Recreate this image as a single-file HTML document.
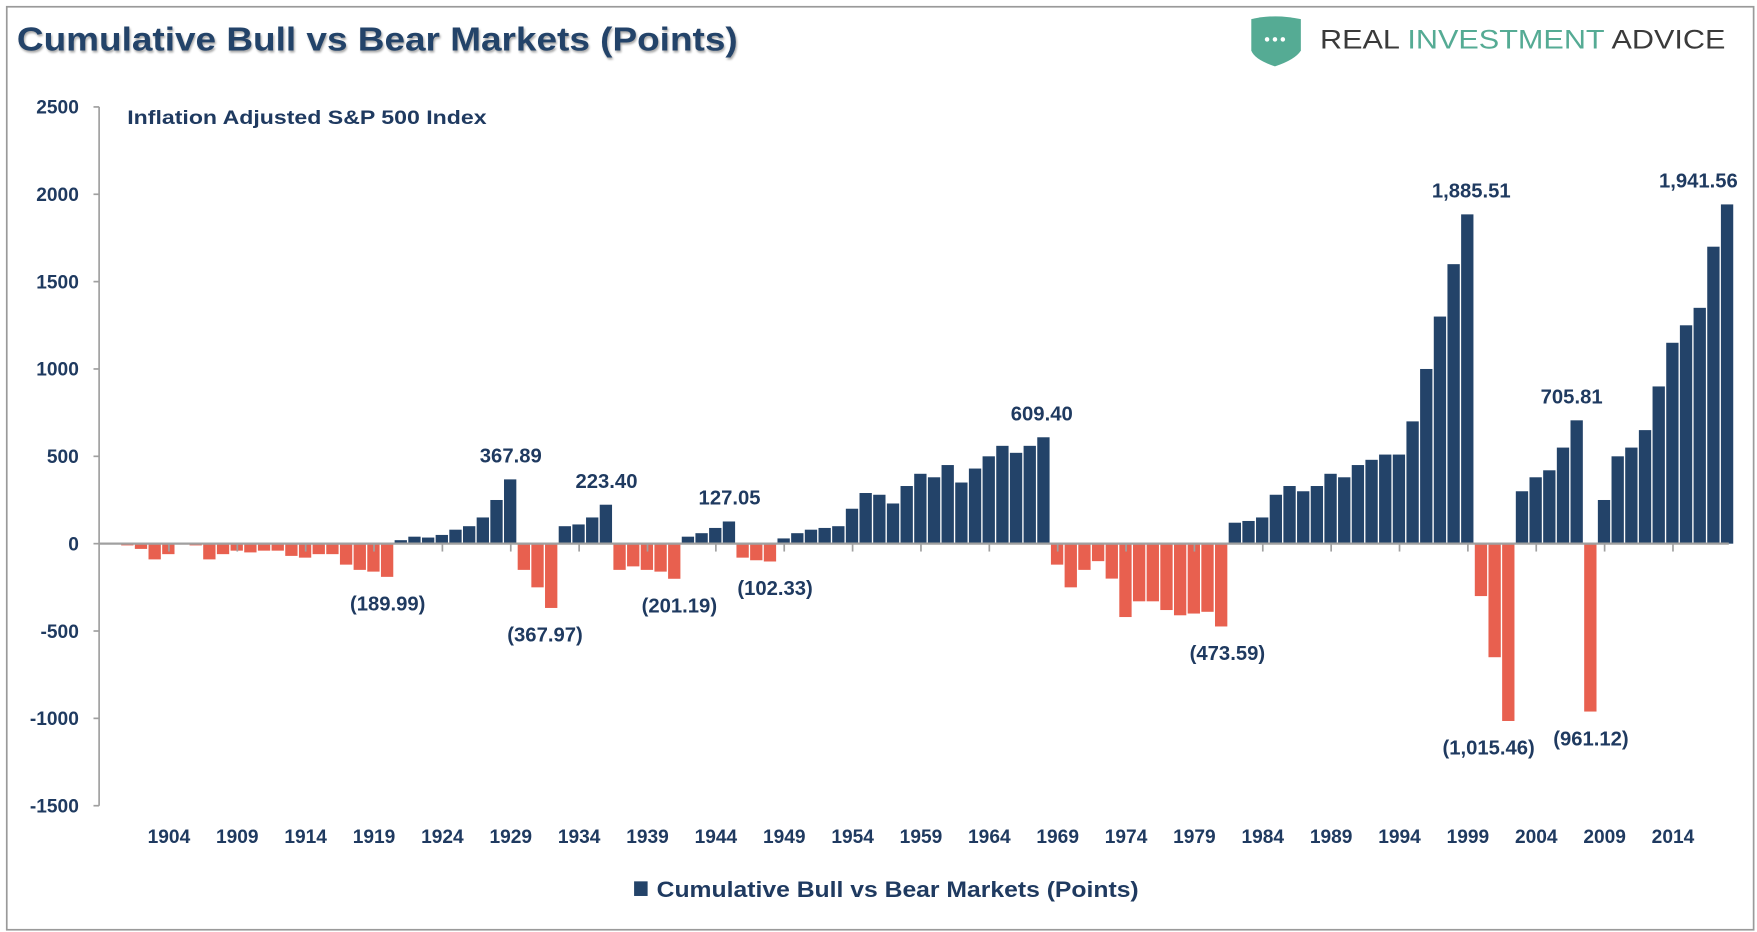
<!DOCTYPE html>
<html><head><meta charset="utf-8"><style>
html,body{margin:0;padding:0;background:#fff;}
svg{display:block;font-family:"Liberation Sans",sans-serif;}
</style></head><body>
<svg id="chart" width="1757" height="932" viewBox="0 0 1560 828" preserveAspectRatio="none" xmlns="http://www.w3.org/2000/svg">
<rect x="6" y="6" width="1551" height="820" fill="#fff" stroke="#9a9a9a" stroke-width="1.5"/>
<text x="15" y="45" font-size="30" font-weight="bold" fill="#234369" textLength="640" lengthAdjust="spacingAndGlyphs" style="text-shadow:1px 2px 2px rgba(0,0,0,0.35)">Cumulative Bull vs Bear Markets (Points)</text>
<g>
<path d="M1111 17 Q1132 12 1155 17 L1155 45 Q1150 53 1132 59 Q1114 53 1111 45 Z" fill="#55ab94"/>
<circle cx="1125" cy="35" r="2" fill="#fff"/><circle cx="1132" cy="35" r="2" fill="#fff"/><circle cx="1139" cy="35" r="2" fill="#fff"/>
<text x="1172" y="43" font-size="24" textLength="360" lengthAdjust="spacingAndGlyphs" fill="#3a3a3a">REAL <tspan fill="#55ab94">INVESTMENT</tspan> ADVICE</text>
</g>
<text x="113" y="110" font-size="17" font-weight="bold" fill="#1f3a60" textLength="319" lengthAdjust="spacingAndGlyphs">Inflation Adjusted S&amp;P 500 Index</text>
<g id="plot"></g>
<rect x="563" y="783" width="12" height="13" fill="#234369"/>
<text x="583" y="797" font-size="20" font-weight="bold" fill="#1f3a60" textLength="428" lengthAdjust="spacingAndGlyphs">Cumulative Bull vs Bear Markets (Points)</text>
</svg>
<script>
const years = [];
for (let y = 1901; y <= 2018; y++) years.push(y);
const values = [
-10,-30,-90,-60,-5,-10,-90,-60,-40,-50,-40,-40,-70,-80,-60,-60,-120,-150,-160,-190,
20,40,35,50,80,100,150,250,368,
-150,-250,-368,
100,110,150,223,
-150,-130,-150,-160,-201,
40,60,90,127,
-80,-95,-102,
30,60,80,90,100,200,290,280,230,330,400,380,450,350,430,500,560,520,560,609,
-120,-250,-150,-100,-200,-420,-330,-330,-380,-410,-400,-390,-474,
120,130,150,280,330,300,330,400,380,450,480,510,510,700,1000,1300,1600,1885,
-300,-650,-1015,
300,380,420,550,706,
-961,
250,500,550,650,900,1150,1250,1350,1700,1942
];
const yTicks = [2500,2000,1500,1000,500,0,-500,-1000,-1500];
const xTickYears = [1904,1909,1914,1919,1924,1929,1934,1939,1944,1949,1954,1959,1964,1969,1974,1979,1984,1989,1994,1999,2004,2009,2014];
const labelYears = [1920,1929,1932,1936,1941,1945,1948,1968,1981,1999,2002,2007,2008,2018];
const labelTexts = ["(189.99)","367.89","(367.97)","223.40","(201.19)","127.05","(102.33)","609.40","(473.59)","1,885.51","(1,015.46)","705.81","(961.12)","1,941.56"];
const labelShift = [0,0,-6,0,4,0,4,-2,5,3,-18,-5,0,-26];

const NS = "http://www.w3.org/2000/svg";
const plot = document.getElementById('plot');
const X0 = 144, YW = 12.14, Y0 = 483, PPU = 77.6/500;
const xs = t => X0 + (t - 1904) * YW;
const ys = v => Y0 - v * PPU;
function mk(tag, attrs){const e=document.createElementNS(NS,tag);for(const k in attrs)e.setAttribute(k,attrs[k]);plot.appendChild(e);return e;}

const ax = mk('line',{x1:88,y1:ys(2500),x2:88,y2:ys(-1500),stroke:'#a0a0a0','stroke-width':1.5});


yTicks.forEach(v=>{
  const t = mk('line',{x1:83,x2:88,y1:ys(v),y2:ys(v),stroke:'#a0a0a0','stroke-width':1.5});
  
  
  const l = mk('text',{x:70,y:ys(v)+6,'text-anchor':'end','font-size':17,'font-weight':'bold',fill:'#1f3a60'});
  l.textContent = v;
  
  
});
years.forEach((yr,i)=>{
  const v = values[i];
  const x = xs(yr);
  const r = mk('rect',{x:x,width:YW-1.2,y:Math.min(ys(v),Y0),height:Math.abs(ys(v)-Y0),fill:v>=0?'#234369':'#e8604f'});
  
  
});
const xa = mk('line',{x1:88,x2:1535,y1:Y0,y2:Y0,stroke:'#a0a0a0','stroke-width':2});


xTickYears.forEach(yr=>{
  const cx = xs(yr)+6;
  const t = mk('line',{x1:cx,x2:cx,y1:Y0,y2:Y0+7,stroke:'#a0a0a0','stroke-width':1.5});
  
  
  const l = mk('text',{x:cx,y:749,'text-anchor':'middle','font-size':17,'font-weight':'bold',fill:'#1f3a60'});
  l.textContent = yr;
  
  
});
labelYears.forEach((yr,i)=>{
  const v = values[years.indexOf(yr)];
  const cx = xs(yr)+6+labelShift[i];
  const y = v>=0 ? ys(v)-15 : ys(v)+30;
  const l = mk('text',{x:cx,y:y,'text-anchor':'middle','font-size':18,'font-weight':'bold',fill:'#1f3a60'});
  l.textContent = labelTexts[i];
  
  
});
</script>
</body></html>
